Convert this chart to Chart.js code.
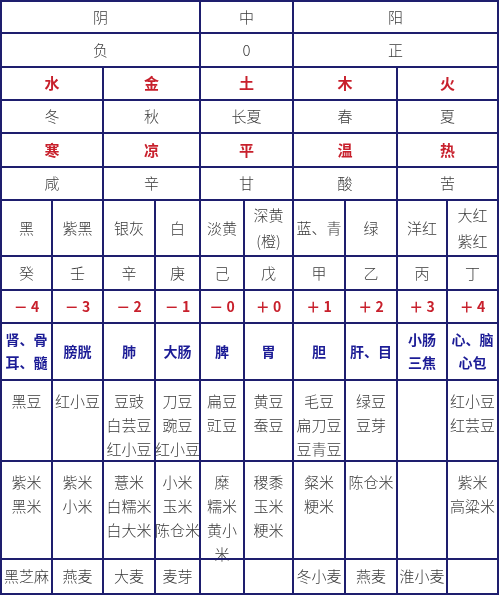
<!DOCTYPE html>
<html>
<head>
<meta charset="utf-8">
<script src="https://cdn.jsdelivr.net/npm/chart.js@4.4.0/dist/chart.umd.min.js"></script>
<style>
  html, body { margin: 0; padding: 0; background: #fff; }
  #wrap { width: 500px; height: 595px; }
</style>
</head>
<body>
<div id="wrap"><canvas id="tbl"></canvas></div>
<script>
/* table content */
const yinYang = ["阴", "中", "阳"];
const polarity = ["负", "0", "正"];
const elements = ["水", "金", "土", "木", "火"];
const seasons = ["冬", "秋", "长夏", "春", "夏"];
const climates = ["寒", "凉", "平", "温", "热"];
const tastes = ["咸", "辛", "甘", "酸", "苦"];
const colours = ["黑", "紫黑", "银灰", "白", "淡黄", "深黄\n(橙)", "蓝、青", "绿", "洋红", "大红\n紫红"];
const stems = ["癸", "壬", "辛", "庚", "己", "戊", "甲", "乙", "丙", "丁"];
const numbers = ["－ 4", "－ 3", "－ 2", "－ 1", "－ 0", "＋ 0", "＋ 1", "＋ 2", "＋ 3", "＋ 4"];
const organs = ["肾、骨\n耳、髓", "膀胱", "肺", "大肠", "脾", "胃", "胆", "肝、目", "小肠\n三焦", "心、脑\n心包"];
const beans = ["黑豆", "红小豆", "豆豉\n白芸豆\n红小豆", "刀豆\n豌豆\n红小豆", "扁豆\n豇豆", "黄豆\n蚕豆", "毛豆\n扁刀豆\n豆青豆", "绿豆\n豆芽", "", "红小豆\n红芸豆"];
const grains = ["紫米\n黑米", "紫米\n小米", "薏米\n白糯米\n白大米", "小米\n玉米\n陈仓米", "糜\n糯米\n黄小\n米", "稷黍\n玉米\n粳米", "粲米\n粳米", "陈仓米", "", "紫米\n高粱米"];
const wheats = ["黑芝麻", "燕麦", "大麦", "麦芽", "", "", "冬小麦", "燕麦", "淮小麦", ""];

/* grid lines (table units) */
const colEdges = [1, 52, 103, 155, 200, 244, 293, 345, 397, 447, 498];
const rowEdges = [1, 33, 67, 100, 133, 167, 200, 256, 290, 323, 380, 461, 559, 594];

const threeSpan = [[0, 4], [4, 6], [6, 10]];
const fiveSpan = [[0, 2], [2, 4], [4, 6], [6, 8], [8, 10]];
const tenSpan = colours.map((_, i) => [i, i + 1]);

const rows = [
  { texts: yinYang, spans: threeSpan, style: "plain" },
  { texts: polarity, spans: threeSpan, style: "plain" },
  { texts: elements, spans: fiveSpan, style: "red" },
  { texts: seasons, spans: fiveSpan, style: "plain" },
  { texts: climates, spans: fiveSpan, style: "red" },
  { texts: tastes, spans: fiveSpan, style: "plain" },
  { texts: colours, spans: tenSpan, style: "plain" },
  { texts: stems, spans: tenSpan, style: "plain" },
  { texts: numbers, spans: tenSpan, style: "num" },
  { texts: organs, spans: tenSpan, style: "blue" },
  { texts: beans, spans: tenSpan, style: "top" },
  { texts: grains, spans: tenSpan, style: "top" },
  { texts: wheats, spans: tenSpan, style: "plain" }
];

const styles = {
  plain: { font: "300 15px 'Noto Sans CJK SC'", color: "#3a3a3a", gap: 26 },
  red: { font: "bold 15px 'Noto Sans CJK SC'", color: "#c8202c", gap: 24 },
  num: { font: "bold 14px 'Noto Sans CJK SC'", color: "#c8202c", gap: 24 },
  blue: { font: "bold 14px 'Noto Sans CJK SC'", color: "#1c1c96", gap: 23 },
  top: { font: "300 15px 'Noto Sans CJK SC'", color: "#3a3a3a", gap: 24 }
};

const cells = [];
rows.forEach((row, r) => {
  row.spans.forEach((sp, i) => {
    cells.push({
      x0: colEdges[sp[0]], x1: colEdges[sp[1]],
      y0: rowEdges[r], y1: rowEdges[r + 1],
      text: row.texts[i], style: row.style
    });
  });
});

const tablePlugin = {
  id: "tablePlugin",
  afterDraw(chart) {
    const ctx = chart.ctx;
    const sx = chart.scales.x, sy = chart.scales.y;
    ctx.save();
    ctx.fillStyle = "#fff";
    ctx.fillRect(0, 0, chart.width, chart.height);
    cells.forEach((c) => {
      const x0 = sx.getPixelForValue(c.x0), x1 = sx.getPixelForValue(c.x1);
      const y0 = sy.getPixelForValue(c.y0), y1 = sy.getPixelForValue(c.y1);
      ctx.strokeStyle = "#1e1e6e";
      ctx.lineWidth = 2;
      ctx.strokeRect(x0, y0, x1 - x0, y1 - y0);

      const st = styles[c.style];
      const lines = c.text ? c.text.split("\n") : [];
      ctx.font = st.font;
      ctx.fillStyle = st.color;
      ctx.textAlign = "center";
      ctx.textBaseline = "middle";
      const cx = (x0 + x1) / 2;
      let startY;
      if (c.style === "top") startY = y0 + 21;
      else startY = (y0 + y1) / 2 - (lines.length - 1) * st.gap / 2;
      lines.forEach((ln, k) => ctx.fillText(ln, cx, startY + k * st.gap));
    });
    ctx.restore();
  }
};

new Chart(document.getElementById("tbl"), {
  type: "scatter",
  data: {
    datasets: [{
      data: cells.map((c) => ({ x: (c.x0 + c.x1) / 2, y: (c.y0 + c.y1) / 2 })),
      pointRadius: 0
    }]
  },
  options: {
    responsive: true,
    maintainAspectRatio: false,
    animation: false,
    layout: { padding: 0 },
    plugins: { legend: { display: false }, tooltip: { enabled: false } },
    scales: {
      x: { type: "linear", min: 0, max: 500, display: false },
      y: { type: "linear", min: 0, max: 595, reverse: true, display: false }
    }
  },
  plugins: [tablePlugin]
});
</script>
</body>
</html>
